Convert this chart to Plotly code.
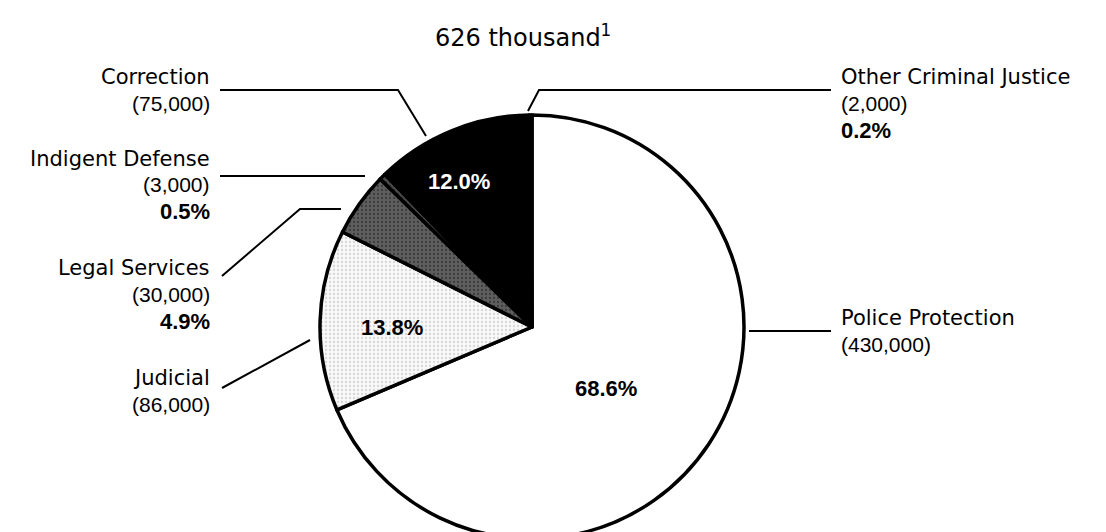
import plotly.graph_objects as go

# ---------------- data ----------------
categories = ["Police Protection", "Judicial", "Legal Services",
              "Indigent Defense", "Correction", "Other Criminal Justice"]
amounts = [430000, 86000, 30000, 3000, 75000, 2000]
shares = [68.6, 13.8, 4.9, 0.5, 12.0, 0.2]
total_label = "626 thousand"

# ---------------- styling / layout constants ----------------
W, H = 1106, 532
CX, CY, R = 524, 319, 212          # pie centre / radius in pixels

fill_colors = ["#ffffff", "#f8f8f8", "#5e5e5e", "#4a4a4a", "#000000", "#000000"]
pattern_shapes = ["", ".", ".", ".", "", ""]
pattern_fg = ["#ffffff", "#b4b4b4", "#1a1a1a", "#1a1a1a", "#000000", "#000000"]

WORD_FONT = "DejaVu Sans"
NUM_FONT = "Liberation Sans"
INK = "#000000"

# outside label blocks: x, first-line y, anchor, lines shown
label_layout = {
    "Correction":             (204, 69, "right", ["name", "amount"]),
    "Indigent Defense":       (204, 151, "right", ["name", "amount", "pct"]),
    "Legal Services":         (204, 260, "right", ["name", "amount", "pct"]),
    "Judicial":               (204, 370, "right", ["name", "amount"]),
    "Other Criminal Justice": (831, 69, "left", ["name", "amount", "pct"]),
    "Police Protection":      (831, 310, "left", ["name", "amount"]),
}
line_gap = [0, 26, 53]
inside_pct = {
    "Correction": (451, 173, "#ffffff"),
    "Judicial": (384, 319, INK),
    "Police Protection": (598, 380, INK),
}
leaders = {
    "Correction": [(212, 82), (390, 82), (418, 128)],
    "Indigent Defense": [(212, 168), (357, 168)],
    "Legal Services": [(214, 268), (292, 201), (333, 201)],
    "Judicial": [(214, 380), (302, 332)],
    "Police Protection": [(741, 323), (823, 323)],
    "Other Criminal Justice": [(823, 82), (531, 82), (520, 103)],
}


def px(x, y):
    return x / W, 1 - y / H


fig = go.Figure()
fig.add_trace(go.Pie(
    labels=categories,
    values=shares,
    sort=False,
    direction="clockwise",
    rotation=0,
    textinfo="none",
    hoverinfo="label+value",
    showlegend=False,
    marker=dict(
        colors=fill_colors,
        line=dict(color=INK, width=3.5),
        pattern=dict(shape=pattern_shapes, fgcolor=pattern_fg,
                     size=4, solidity=0.25, fillmode="overlay"),
    ),
    domain=dict(x=[(CX - R) / W, (CX + R) / W],
                y=[(H - CY - R) / H, (H - CY + R) / H]),
))

annotations = []
# title
tx, ty = px(515, 28)
annotations.append(dict(x=tx, y=ty, xref="paper", yref="paper",
                        text=total_label + "<sup>1</sup>", showarrow=False,
                        xanchor="center", yanchor="middle",
                        font=dict(family=WORD_FONT, size=24, color=INK)))

for cat, amt, pct in zip(categories, amounts, shares):
    x0, y0, anchor, lines = label_layout[cat]
    for i, kind in enumerate(lines):
        if kind == "name":
            txt, fnt = cat, dict(family=WORD_FONT, size=21, color=INK)
        elif kind == "amount":
            txt, fnt = f"({amt:,})", dict(family=NUM_FONT, size=21, color=INK)
        else:
            txt, fnt = f"<b>{pct:.1f}%</b>", dict(family=NUM_FONT, size=22, color=INK)
        ax, ay = px(x0, y0 + line_gap[i])
        annotations.append(dict(x=ax, y=ay, xref="paper", yref="paper",
                                text=txt, showarrow=False, xanchor=anchor,
                                yanchor="middle", font=fnt))
    if cat in inside_pct:
        ix, iy, col = inside_pct[cat]
        ax, ay = px(ix, iy)
        annotations.append(dict(x=ax, y=ay, xref="paper", yref="paper",
                                text=f"<b>{pct:.1f}%</b>", showarrow=False,
                                xanchor="center", yanchor="middle",
                                font=dict(family=NUM_FONT, size=22, color=col)))

shapes = []
for cat, pts in leaders.items():
    path = ""
    for j, (x, y) in enumerate(pts):
        X, Y = px(x, y)
        path += ("M" if j == 0 else " L") + f" {X:.5f} {Y:.5f}"
    shapes.append(dict(type="path", path=path, xref="paper", yref="paper",
                       line=dict(color=INK, width=2)))

fig.update_layout(
    width=W, height=H,
    margin=dict(l=0, r=0, t=0, b=0),
    paper_bgcolor="#ffffff", plot_bgcolor="#ffffff",
    annotations=annotations, shapes=shapes,
)

fig.write_html("out.html")
